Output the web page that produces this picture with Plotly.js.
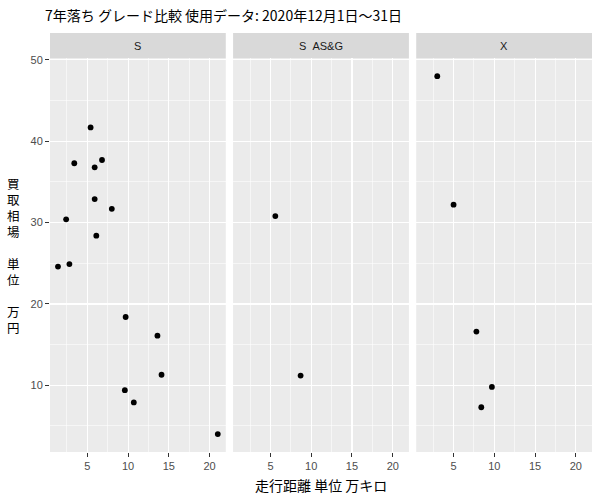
<!DOCTYPE html>
<html>
<head>
<meta charset="utf-8">
<script src="https://cdn.plot.ly/plotly-3.0.1.min.js"></script>
<style>html,body{margin:0;padding:0;background:#fff;}#chart{width:600px;height:500px;}</style>
</head>
<body>
<div id="chart"></div>
<script>
// Facet names
var facets = ["S", "S\u00a0\u00a0AS&G", "X"];
// Panel S
var sX = [5.4, 3.4, 6.8, 5.9, 5.9, 8.0, 2.4, 6.1, 1.4, 2.8, 9.7, 13.6, 14.1, 9.6, 10.7, 21.0];
var sY = [41.7, 37.3, 37.7, 36.8, 32.9, 31.7, 30.4, 28.4, 24.6, 24.9, 18.4, 16.1, 11.3, 9.4, 7.9, 4.0];
// Panel S AS&G
var sagX = [5.6, 8.7];
var sagY = [30.8, 11.2];
// Panel X
var xX = [3.0, 5.0, 7.8, 9.7, 8.4];
var xY = [48.0, 32.2, 16.6, 9.8, 7.3];
// Tick values
var xTicks = [5, 10, 15, 20];
var yTicks = [10, 20, 30, 40, 50];

var titleText = "7年落ち グレード比較 使用データ: 2020年12月1日～31日";
var xTitle = "走行距離 単位 万キロ";
var yTitleChars = ["買","取","相","場","","単","位","","万","円"];

var allX = sX.concat(sagX, xX), allY = sY.concat(sagY, xY);
function expand(a){var lo=Math.min.apply(null,a),hi=Math.max.apply(null,a),r=hi-lo;return [lo-0.05*r,hi+0.05*r];}
var xr = expand(allX), yr = expand(allY);

var FONT = "Liberation Sans, Arial, Noto Sans CJK JP, sans-serif";
var CJK = "Noto Sans CJK JP, sans-serif";

var sets = [[sX,sY],[sagX,sagY],[xX,xY]];
var traces = sets.map(function(s,i){
  var suf = i===0 ? "" : String(i+1);
  return {type:"scatter", mode:"markers", x:s[0], y:s[1], xaxis:"x"+suf, yaxis:"y"+suf,
    marker:{color:"#000000", size:5.8}, hoverinfo:"x+y", showlegend:false, cliponaxis:false};
});

var doms = [[0,0.3243],[0.3378,0.6622],[0.6757,1]];
var yTop = 0.9396;
var PH = 419, PW = 542;
var layout = {
  width:600, height:500,
  margin:{l:50, r:8, t:33, b:48, pad:0},
  paper_bgcolor:"#ffffff", plot_bgcolor:"#EBEBEB",
  font:{family:FONT, color:"#000000"},
  showlegend:false,
  shapes:[], annotations:[]
};
doms.forEach(function(d,i){
  var suf = i===0 ? "" : String(i+1);
  layout["xaxis"+suf] = {
    domain:d, anchor:"y"+suf, range:xr, tickmode:"array", tickvals:xTicks,
    showgrid:true, gridcolor:"#FFFFFF", gridwidth:1.1, zeroline:false, showline:false,
    ticks:"outside", ticklen:4, tickwidth:1, tickcolor:"#333333",
    tickfont:{size:11, color:"#4D4D4D", family:FONT},
    minor:{tick0:2.5, dtick:5, showgrid:true, gridcolor:"#FFFFFF", gridwidth:0.55, ticks:""}
  };
  layout["yaxis"+suf] = {
    domain:[0,yTop], anchor:"x"+suf, range:yr, tickmode:"array", tickvals:yTicks,
    showgrid:true, gridcolor:"#FFFFFF", gridwidth:1.1, zeroline:false, showline:false,
    ticks: i===0 ? "outside" : "", ticklen:4, tickwidth:1, tickcolor:"#333333",
    showticklabels: i===0,
    tickfont:{size:11, color:"#4D4D4D", family:FONT},
    minor:{tick0:5, dtick:10, showgrid:true, gridcolor:"#FFFFFF", gridwidth:0.55, ticks:""}
  };
  if(i>0) layout["yaxis"+suf].matches = "y";
  layout.shapes.push({type:"rect", xref:"x"+suf+" domain", yref:"paper", x0:0, x1:1, y0:yTop, y1:1,
    fillcolor:"#D9D9D9", line:{width:0}, layer:"below"});
  layout.annotations.push({xref:"x"+suf+" domain", yref:"paper", x:0.5, y:(yTop+1)/2,
    xanchor:"center", yanchor:"middle", showarrow:false, text:facets[i],
    font:{size:11, color:"#1A1A1A", family:FONT}});
});
layout.annotations.push({xref:"paper", yref:"paper", x:-7/PW, y:1+18/PH, xanchor:"left", yanchor:"middle",
  showarrow:false, text:titleText, font:{size:14, color:"#000000", family:CJK}});
layout.annotations.push({xref:"paper", yref:"paper", x:0.5, y:-33/PH, xanchor:"center", yanchor:"middle",
  showarrow:false, text:xTitle, font:{size:14, color:"#000000", family:CJK}});
yTitleChars.forEach(function(c,k){
  if(!c) return;
  var py = 185 + 16*k;
  layout.annotations.push({xref:"paper", yref:"paper", x:-37/PW, y:(452-py)/PH, xanchor:"center", yanchor:"middle",
    showarrow:false, text:c, borderpad:0, font:{size:12.5, color:"#000000", family:FONT}});
});

Plotly.newPlot("chart", traces, layout, {displayModeBar:false, staticPlot:true});
</script>
</body>
</html>
